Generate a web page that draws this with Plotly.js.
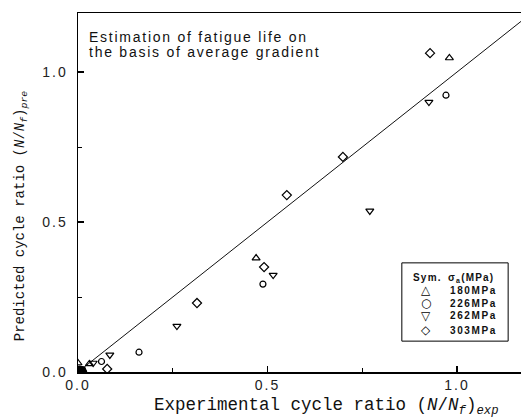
<!DOCTYPE html>
<html><head><meta charset="utf-8">
<script src="https://cdn.plot.ly/plotly-3.0.1.min.js"></script>
<style>
html,body{margin:0;padding:0;background:#fff}
#chart .xtick text, #chart .ytick text {letter-spacing: 2px;}
</style>
</head><body>
<div id="chart" style="width:521px;height:419px"></div>
<script>
// Data
const seriesNames = ["180MPa", "226MPa", "262MPa", "303MPa"];
const x180 = [0.0, 0.03, 0.47, 0.98];
const y180 = [0.03, 0.027, 0.38, 1.047];
const x226 = [0.0, 0.062, 0.161, 0.488, 0.971];
const y226 = [0.0, 0.035, 0.066, 0.293, 0.923];
const x262 = [0.0, 0.04, 0.084, 0.261, 0.515, 0.77, 0.926];
const y262 = [0.005, 0.03, 0.057, 0.153, 0.323, 0.537, 0.90];
const x303 = [0.005, 0.077, 0.314, 0.491, 0.551, 0.699, 0.929];
const y303 = [0.0, 0.01, 0.23, 0.35, 0.59, 0.717, 1.063];
const xCluster = [0.0, 0.008, 0.015, 0.004, 0.012, -0.003];
const yCluster = [0.0, 0.006, 0.0, 0.01, 0.008, 0.006];
const xLine = [0, 1.2];
const yLine = [0, 1.2];
const xTicks = [0, 0.5, 1.0];
const xTickText = ["0.0", "0.5", "1.0"];
const yTicks = [0, 0.5, 1.0];
const yTickText = ["0.0", "0.5", "1.0"];
const legendSymbols = ["△", "○", "▽", "◇"];
const noteLines = ["Estimation of fatigue life on", "the basis of average gradient"];

const symbols = ["triangle-up-open", "circle-open", "triangle-down-open", "diamond-open"];
const xs = [x180, x226, x262, x303];
const ys = [y180, y226, y262, y303];
const sizes = [7, 6, 7, 7];

const traces = [{
  x: xLine, y: yLine, mode: "lines", line: {color: "#111", width: 1}, showlegend: false, hoverinfo: "skip"
}, {
  x: xCluster, y: yCluster, mode: "markers", showlegend: false,
  marker: {symbol: "circle", size: 7, color: "#000"}
}];
for (let i = 0; i < 4; i++) {
  traces.push({
    x: xs[i], y: ys[i], mode: "markers", name: seriesNames[i], showlegend: false,
    marker: {symbol: symbols[i], size: sizes[i], color: "#000", line: {width: 1.2, color: "#000"}}
  });
}

const sans = "Liberation Sans, Arial, sans-serif";
const mono = "Liberation Mono, Courier New, monospace";
const spaced = (t, px) => '<span style="letter-spacing:' + px + 'px">' + t + '</span>';
const annotations = [];
// note text
const noteY = [0.933, 0.892];
noteLines.forEach((t, i) => annotations.push({
  text: spaced(t, 1.75), xref: "paper", yref: "paper", x: 0.02, y: noteY[i], xanchor: "left", yanchor: "middle",
  showarrow: false, font: {size: 14, color: "#111", family: sans}
}));
// axis titles
annotations.push({
  text: "Experimental cycle ratio (<i>N</i>/<i>N</i><sub><i>f</i></sub>)<sub><i>exp</i></sub>",
  xref: "paper", yref: "paper", x: 0.562, y: -0.095, xanchor: "center", yanchor: "middle",
  showarrow: false, font: {size: 17.5, color: "#111", family: mono}
});
annotations.push({
  text: "Predicted cycle ratio (<i>N</i>/<i>N</i><sub><i>f</i></sub>)<sub><i>pre</i></sub>",
  xref: "paper", yref: "paper", x: -0.13, y: 0.435, xanchor: "center", yanchor: "middle",
  textangle: -90, showarrow: false, font: {size: 14, color: "#111", family: mono}
});
// legend (custom)
const legFont = {size: 10, color: "#111", family: sans, weight: "bold"};
annotations.push({text: spaced("Sym.", 1.2), xref: "paper", yref: "paper", x: 0.752, y: 0.262, xanchor: "left", yanchor: "middle", showarrow: false, font: legFont});
annotations.push({text: spaced("σ<sub>a</sub>(MPa)", 1.2), xref: "paper", yref: "paper", x: 0.831, y: 0.262, xanchor: "left", yanchor: "middle", showarrow: false, font: legFont});
const rowY = [0.228, 0.192, 0.156, 0.116];
for (let i = 0; i < 4; i++) {
  annotations.push({text: legendSymbols[i], xref: "paper", yref: "paper", x: 0.786, y: rowY[i], xanchor: "center", yanchor: "middle", showarrow: false,
    font: {size: 12, color: "#000", family: "DejaVu Sans, sans-serif", weight: "bold"}});
  annotations.push({text: spaced(seriesNames[i], 1.6), xref: "paper", yref: "paper", x: 0.835, y: rowY[i], xanchor: "left", yanchor: "middle", showarrow: false, font: legFont});
}

const layout = {
  width: 521, height: 419,
  margin: {l: 78, r: 0, t: 13, b: 47, pad: 0},
  paper_bgcolor: "#fff", plot_bgcolor: "#fff",
  font: {family: sans, color: "#222"},
  showlegend: false,
  xaxis: {
    range: [0, 1.169], showgrid: false, zeroline: false,
    showline: true, linecolor: "#000", linewidth: 1.5, mirror: true,
    ticks: "inside", ticklen: 6, tickwidth: 1.2, tickcolor: "#000",
    tickvals: xTicks, ticktext: xTickText, tickfont: {size: 14, color: "#222"},
    minor: {tickvals: [0.25, 0.75], ticks: "inside", ticklen: 4, tickwidth: 1, tickcolor: "#000"}
  },
  yaxis: {
    range: [0, 1.197], showgrid: false, zeroline: false,
    showline: true, linecolor: "#000", linewidth: 1.5, mirror: false,
    ticks: "inside", ticklen: 6, tickwidth: 1.2, tickcolor: "#000", ticklabelstandoff: 6,
    tickvals: yTicks, ticktext: yTickText, tickfont: {size: 14, color: "#222"},
    minor: {tickvals: [0.25, 0.75], ticks: "inside", ticklen: 4, tickwidth: 1, tickcolor: "#000"}
  },
  shapes: [{type: "rect", xref: "paper", yref: "paper", x0: 0.731, x1: 0.971, y0: 0.086, y1: 0.304,
    line: {color: "#000", width: 1}, fillcolor: "#fff", layer: "below"}],
  annotations: annotations
};
Plotly.newPlot("chart", traces, layout, {displayModeBar: false, staticPlot: true});
</script>
</body></html>
